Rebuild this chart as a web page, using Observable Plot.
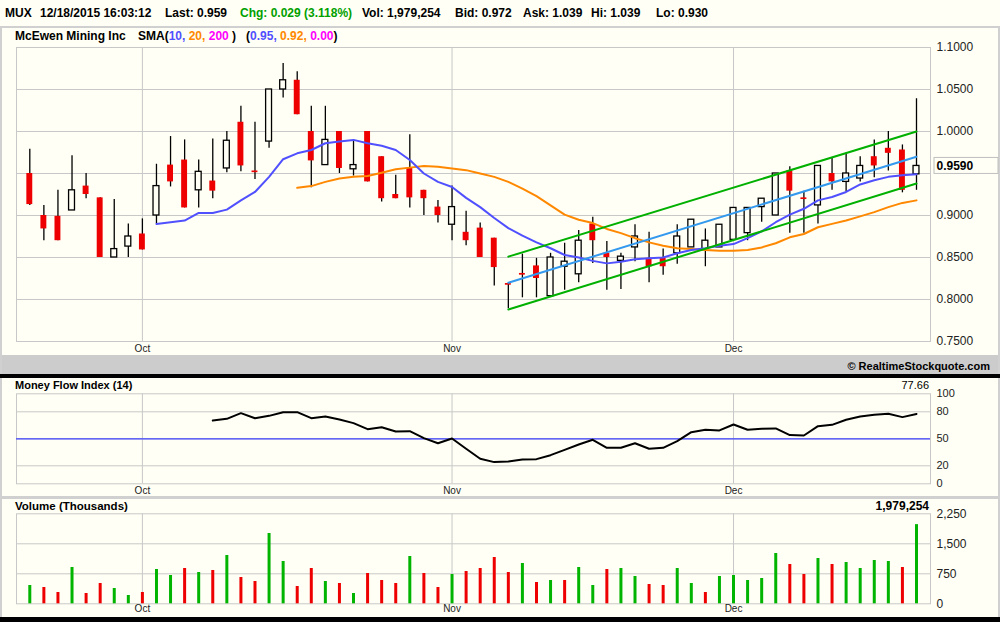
<!DOCTYPE html>
<html><head><meta charset="utf-8">
<script src="https://cdn.jsdelivr.net/npm/d3@7"></script>
<script src="https://cdn.jsdelivr.net/npm/@observablehq/plot@0.6"></script>
<style>
body{margin:0;background:#fffff5;}
#root{position:relative;width:1000px;height:622px;background:#fffff5;overflow:hidden;font-family:"Liberation Sans",Arial,sans-serif;color:#000;}
.t{position:absolute;white-space:pre;font-weight:bold;font-size:12px;line-height:14px;}
.box{position:absolute;}
svg{display:block;}
</style></head><body><div id="root"></div>
<script>
// ---------- data ----------
const symbol = "MUX", company = "McEwen Mining Inc";
const quoteTime = "12/18/2015 16:03:12";
const last = 0.959, chg = 0.029, chgPct = 3.118, vol = 1979254, bid = 0.972, ask = 1.039, hi = 1.039, lo = 0.930;
const monthNames = ["Jan","Feb","Mar","Apr","May","Jun","Jul","Aug","Sep","Oct","Nov","Dec"];
const dates = ["09-21","09-22","09-23","09-24","09-25","09-28","09-29","09-30",
"10-01","10-02","10-05","10-06","10-07","10-08","10-09","10-12","10-13","10-14","10-15","10-16","10-19","10-20","10-21","10-22","10-23","10-26","10-27","10-28","10-29","10-30",
"11-02","11-03","11-04","11-05","11-06","11-09","11-10","11-11","11-12","11-13","11-16","11-17","11-18","11-19","11-20","11-23","11-24","11-25","11-27","11-30",
"12-01","12-02","12-03","12-04","12-07","12-08","12-09","12-10","12-11","12-14","12-15","12-16","12-17","12-18"];
const open = [0.950,0.900,0.899,0.906,0.935,0.921,0.850,0.863,0.878,0.900,
0.960,0.966,0.930,0.941,0.956,1.011,0.953,0.988,1.050,1.061,
1.000,0.960,1.000,0.955,1.000,0.970,0.925,0.957,0.930,0.910,
0.889,0.880,0.885,0.873,0.819,0.831,0.840,0.804,0.839,0.830,
0.890,0.855,0.846,0.862,0.849,0.849,0.855,0.862,0.860,0.862,
0.871,0.879,0.910,0.900,0.953,0.921,0.912,0.950,0.940,0.944,
0.970,0.980,0.978,0.949];
const high = [0.979,0.912,0.930,0.971,0.950,0.921,0.919,0.890,0.896,0.961,
0.994,0.990,0.966,0.991,1.000,1.030,1.011,1.050,1.081,1.071,
1.030,1.030,1.000,0.990,1.000,0.970,0.948,0.996,0.930,0.918,
0.935,0.905,0.891,0.873,0.819,0.854,0.849,0.855,0.867,0.882,
0.898,0.869,0.855,0.889,0.880,0.860,0.889,0.895,0.884,0.889,
0.909,0.909,0.920,0.950,0.958,0.929,0.959,0.969,0.974,0.970,
0.990,1.000,0.984,1.039];
const low = [0.912,0.870,0.870,0.906,0.920,0.850,0.850,0.850,0.859,0.890,
0.934,0.909,0.909,0.920,0.951,0.952,0.943,0.980,1.040,1.020,
0.933,0.960,0.950,0.947,0.940,0.916,0.920,0.909,0.900,0.891,
0.870,0.864,0.850,0.816,0.789,0.802,0.802,0.804,0.811,0.820,
0.843,0.811,0.812,0.845,0.820,0.829,0.842,0.862,0.839,0.862,
0.871,0.870,0.892,0.900,0.879,0.879,0.890,0.930,0.928,0.940,
0.945,0.953,0.927,0.930];
const close = [0.913,0.884,0.870,0.930,0.925,0.850,0.860,0.875,0.859,0.935,
0.940,0.909,0.952,0.929,0.989,0.959,0.951,1.050,1.061,1.020,
0.965,0.990,0.956,0.960,0.940,0.920,0.920,0.921,0.920,0.900,
0.910,0.870,0.850,0.838,0.817,0.829,0.825,0.850,0.845,0.870,
0.870,0.850,0.851,0.875,0.839,0.839,0.875,0.895,0.870,0.889,
0.909,0.909,0.920,0.950,0.929,0.919,0.959,0.940,0.950,0.959,
0.959,0.974,0.930,0.959];
const sma10Start = 9;
const sma10 = [0.890,0.892,0.894,0.903,0.903,0.907,0.918,0.928,0.946,0.967,
0.974,0.978,0.986,0.988,0.990,0.986,0.983,0.978,0.966,0.950,
0.940,0.934,0.921,0.910,0.897,0.885,0.876,0.868,0.861,0.853,
0.850,0.846,0.843,0.845,0.848,0.849,0.850,0.855,0.859,0.861,
0.864,0.866,0.873,0.881,0.892,0.901,0.908,0.918,0.922,0.928,
0.937,0.942,0.946,0.948,0.949];
const sma20Start = 19;
const sma20 = [0.933,0.935,0.940,0.944,0.946,0.947,0.951,0.955,0.957,0.959,
0.958,0.956,0.954,0.950,0.946,0.940,0.932,0.923,0.912,0.901,
0.895,0.891,0.884,0.879,0.873,0.868,0.864,0.861,0.860,0.859,
0.858,0.858,0.859,0.862,0.867,0.874,0.878,0.886,0.890,0.894,
0.899,0.904,0.910,0.915,0.918];
const sma200Last = 0.00;
const channelIdx = [34, 63];
const channelUpper = [0.851, 1.000];
const channelMid = [0.820, 0.970];
const channelLower = [0.788, 0.938];
const mfiStart = 13;
const mfi = [70.3,72.2,78.5,72.9,75.5,79.6,79.6,72.9,74.8,71.4,
67.4,60.7,62.9,58.1,58.5,50.7,45.1,50.3,38.9,27.8,
24.1,24.8,27.0,27.4,31.8,37.7,43.7,48.9,40.0,40.0,
45.1,38.9,40.0,47.4,57.4,60.0,59.3,65.9,60.0,61.1,
61.5,54.1,53.7,64.0,65.5,71.1,74.8,76.6,77.8,74.1,
77.66];
const volumeK = [458,408,283,908,258,508,383,208,283,858,
708,883,783,833,1208,658,558,1758,1058,433,
883,558,508,258,758,583,508,1183,758,408,
733,808,883,1158,783,1008,533,583,583,908,
458,858,883,683,483,458,883,508,283,683,
708,583,633,1258,983,733,1133,983,1033,883,
1083,1058,908,1979.254];
const volumeUp = [1,0,0,1,0,0,1,1,0,1, 1,0,1,0,1,0,0,1,1,0, 0,1,0,1,0,0,0,1,0,0,
1,0,0,0,0,1,0,1,0,1, 1,0,1,1,0,0,1,1,0,1, 1,1,1,1,0,0,1,0,1,1, 1,1,0,1];
const priceTicks = [0.75,0.80,0.85,0.90,0.95,1.00,1.05,1.10];
const priceLabelTicks = [0.75,0.80,0.85,0.90,1.00,1.05,1.10];
const mfiTicks = [0,20,50,80,100];
const mfiGrid = [20,50,80];
const volTicks = [0,750,1500,2250];
const volGrid = [750,1500];

// ---------- derived tables ----------
const N = dates.length;
const idx = d3.range(N);
const candles = idx.map(i => ({i, o: open[i], h: high[i], l: low[i], c: close[i]}));
const sma10Data = sma10.map((v, k) => ({i: sma10Start + k, v}));
const sma20Data = sma20.map((v, k) => ({i: sma20Start + k, v}));
const mfiData = mfi.map((v, k) => ({i: mfiStart + k, v}));
const volData = idx.map(i => ({i, v: volumeK[i], up: volumeUp[i] === 1}));
const chan = arr => channelIdx.map((i, k) => ({i, v: arr[k]}));
const monthTicks = idx.filter(i => i > 0 && dates[i].slice(0,2) !== dates[i-1].slice(0,2));
const monthLabel = i => monthNames[+dates[i].slice(0,2) - 1];
const xDomain = [-0.945, N - 1 + 0.995];

const CREAM = "#fffff5", GRID = "#c8c8c8", RED = "#ee0000", GREEN = "#00b400";
const BLUE = "#5050ff", ORANGE = "#ff8800", MAGENTA = "#ff00ff";
const baseStyle = {background: "transparent", fontFamily: "Liberation Sans, Arial, sans-serif", fontSize: "12px", color: "#222", overflow: "visible"};
const common = {width: 1000, marginLeft: 16, marginRight: 70};

// ---------- layout helpers ----------
const root = document.getElementById("root");
function box(left, top, w, h, bg) { const d = document.createElement("div"); d.className = "box"; d.style.cssText += `left:${left}px;top:${top}px;width:${w}px;height:${h}px;background:${bg};`; root.appendChild(d); return d; }
function text(left, top, html, extra = "") { const d = document.createElement("div"); d.className = "t"; d.style.cssText += `left:${left}px;top:${top}px;${extra}`; d.innerHTML = html; root.appendChild(d); return d; }
function place(el, top) { const w = document.createElement("div"); w.style.cssText = `position:absolute;left:0;top:${top}px;`; w.appendChild(el); root.appendChild(w); }

// header
const fmt3 = d3.format(".3f");
text(5, 6, symbol);
text(40, 6, quoteTime);
text(165, 6, `Last: ${fmt3(last)}`);
text(240, 6, `Chg: ${fmt3(chg)} (${d3.format(".3f")(chgPct)}%)`, "color:#00a000;");
text(362, 6, `Vol: ${d3.format(",")(vol)}`);
text(455, 6, `Bid: ${fmt3(bid)}`);
text(523, 6, `Ask: ${fmt3(ask)}`);
text(591, 6, `Hi: ${fmt3(hi)}`);
text(656, 6, `Lo: ${fmt3(lo)}`);
box(0, 26, 1000, 2, "#d0d0d0");
box(0, 26, 2, 596, "#d0d0d0");
box(998, 26, 2, 596, "#d0d0d0");

// price panel title
const f2 = d3.format(".2f");
text(15, 29, company);
text(138, 29, `SMA(<span style="color:${BLUE}">10, </span><span style="color:${ORANGE}">20, </span><span style="color:${MAGENTA}">200</span> )   (<span style="color:${BLUE}">${f2(sma10[sma10.length-1])}, </span><span style="color:${ORANGE}">${f2(sma20[sma20.length-1])}, </span><span style="color:${MAGENTA}">${f2(sma200Last)}</span>)`);

// ---------- price chart ----------
const lastClose = close[N - 1];
const price = Plot.plot({
  ...common, height: 315, marginTop: 7, marginBottom: 14,
  style: baseStyle,
  x: {domain: xDomain, axis: null},
  y: {domain: [0.75, 1.1], axis: null},
  marks: [
    Plot.gridY(priceTicks, {stroke: GRID, strokeOpacity: 1}),
    Plot.gridX(monthTicks, {stroke: GRID, strokeOpacity: 1}),
    Plot.frame({stroke: GRID}),
    Plot.ruleX(candles, {x: "i", y1: "l", y2: "h", stroke: "#000", strokeWidth: 1.3}),
    Plot.rect(candles, {filter: d => d.c < d.o, x1: d => d.i - 0.21, x2: d => d.i + 0.21, y1: "o", y2: "c", fill: RED}),
    Plot.rect(candles, {filter: d => d.c >= d.o, x1: d => d.i - 0.21, x2: d => d.i + 0.21, y1: "o", y2: "c", fill: CREAM, stroke: "#000", strokeWidth: 1.3}),
    Plot.line(sma20Data, {x: "i", y: "v", stroke: ORANGE, strokeWidth: 2}),
    Plot.line(sma10Data, {x: "i", y: "v", stroke: BLUE, strokeWidth: 2}),
    Plot.line(chan(channelUpper), {x: "i", y: "v", stroke: "#00b000", strokeWidth: 2}),
    Plot.line(chan(channelLower), {x: "i", y: "v", stroke: "#00b000", strokeWidth: 2}),
    Plot.line(chan(channelMid), {x: "i", y: "v", stroke: "#3399ee", strokeWidth: 2}),
    Plot.axisY(priceLabelTicks, {anchor: "right", tickSize: 0, tickPadding: 6, tickFormat: d3.format(".4f"), fontSize: 12, fill: "#222", label: null}),
    Plot.axisX(monthTicks, {anchor: "bottom", tickSize: 0, tickPadding: 3, tickFormat: monthLabel, fontSize: 10, fill: "#222", label: null}),
    Plot.rect([lastClose], {x1: xDomain[1], x2: xDomain[1], y1: d => d, y2: d => d, insetLeft: 4, insetRight: -68, insetTop: -8, insetBottom: -8, fill: CREAM, stroke: "#c0c0c0"}),
    Plot.text([lastClose], {x: xDomain[1], y: d => d, dx: 6, text: d => d3.format(".4f")(d), textAnchor: "start", fontWeight: "bold", fontSize: 12, fill: "#000"})
  ]
});
place(price, 40);

// copyright band
box(2, 355, 996, 19, "#cccccc");
text(0, 359, "© RealtimeStockquote.com", "width:990px;text-align:right;font-size:11px;");
box(0, 374, 1000, 4, "#000");

// ---------- MFI ----------
text(15, 378, "Money Flow Index (14)", "font-size:11px;");
text(0, 378, d3.format(".2f")(mfi[mfi.length-1]), "width:929px;text-align:right;font-size:11px;font-weight:normal;");
const mfiChart = Plot.plot({
  ...common, height: 117, marginTop: 13.3, marginBottom: 13.7,
  style: baseStyle,
  x: {domain: xDomain, axis: null},
  y: {domain: [0, 100], axis: null},
  marks: [
    Plot.gridY(mfiGrid, {stroke: GRID, strokeOpacity: 1}),
    Plot.gridX(monthTicks, {stroke: GRID, strokeOpacity: 1}),
    Plot.frame({stroke: GRID}),
    Plot.ruleY([50], {stroke: "#4040ff", strokeWidth: 1.2}),
    Plot.line(mfiData, {x: "i", y: "v", stroke: "#000", strokeWidth: 2}),
    Plot.axisY(mfiTicks, {anchor: "right", tickSize: 0, tickPadding: 6, fontSize: 11, fill: "#222", label: null}),
    Plot.axisX(monthTicks, {anchor: "bottom", tickSize: 0, tickPadding: 3, tickFormat: monthLabel, fontSize: 10, fill: "#222", label: null})
  ]
});
place(mfiChart, 380);
box(0, 496, 1000, 3, "#d0d0d0");

// ---------- Volume ----------
text(15, 499, "Volume (Thousands)", "font-size:11.5px;");
text(0, 499, d3.format(",")(Math.round(volumeK[N-1] * 1000)), "width:929px;text-align:right;font-size:12px;");
const volChart = Plot.plot({
  ...common, height: 117, marginTop: 13.3, marginBottom: 13.7,
  style: baseStyle,
  x: {domain: xDomain, axis: null},
  y: {domain: [0, 2250], axis: null},
  marks: [
    Plot.gridY(volGrid, {stroke: GRID, strokeOpacity: 1}),
    Plot.gridX(monthTicks, {stroke: GRID, strokeOpacity: 1}),
    Plot.frame({stroke: GRID}),
    Plot.ruleX(volData, {filter: d => d.up, x: "i", y1: 0, y2: "v", stroke: GREEN, strokeWidth: 3}),
    Plot.ruleX(volData, {filter: d => !d.up, x: "i", y1: 0, y2: "v", stroke: RED, strokeWidth: 3}),
    Plot.axisY(volTicks, {anchor: "right", tickSize: 0, tickPadding: 6, tickFormat: d3.format(","), fontSize: 12, fill: "#222", label: null}),
    Plot.axisX(monthTicks, {anchor: "bottom", tickSize: 0, tickPadding: 1, tickFormat: monthLabel, fontSize: 10, fill: "#222", label: null})
  ]
});
place(volChart, 500);
box(0, 617, 1000, 5, "#000");
</script></body></html>
